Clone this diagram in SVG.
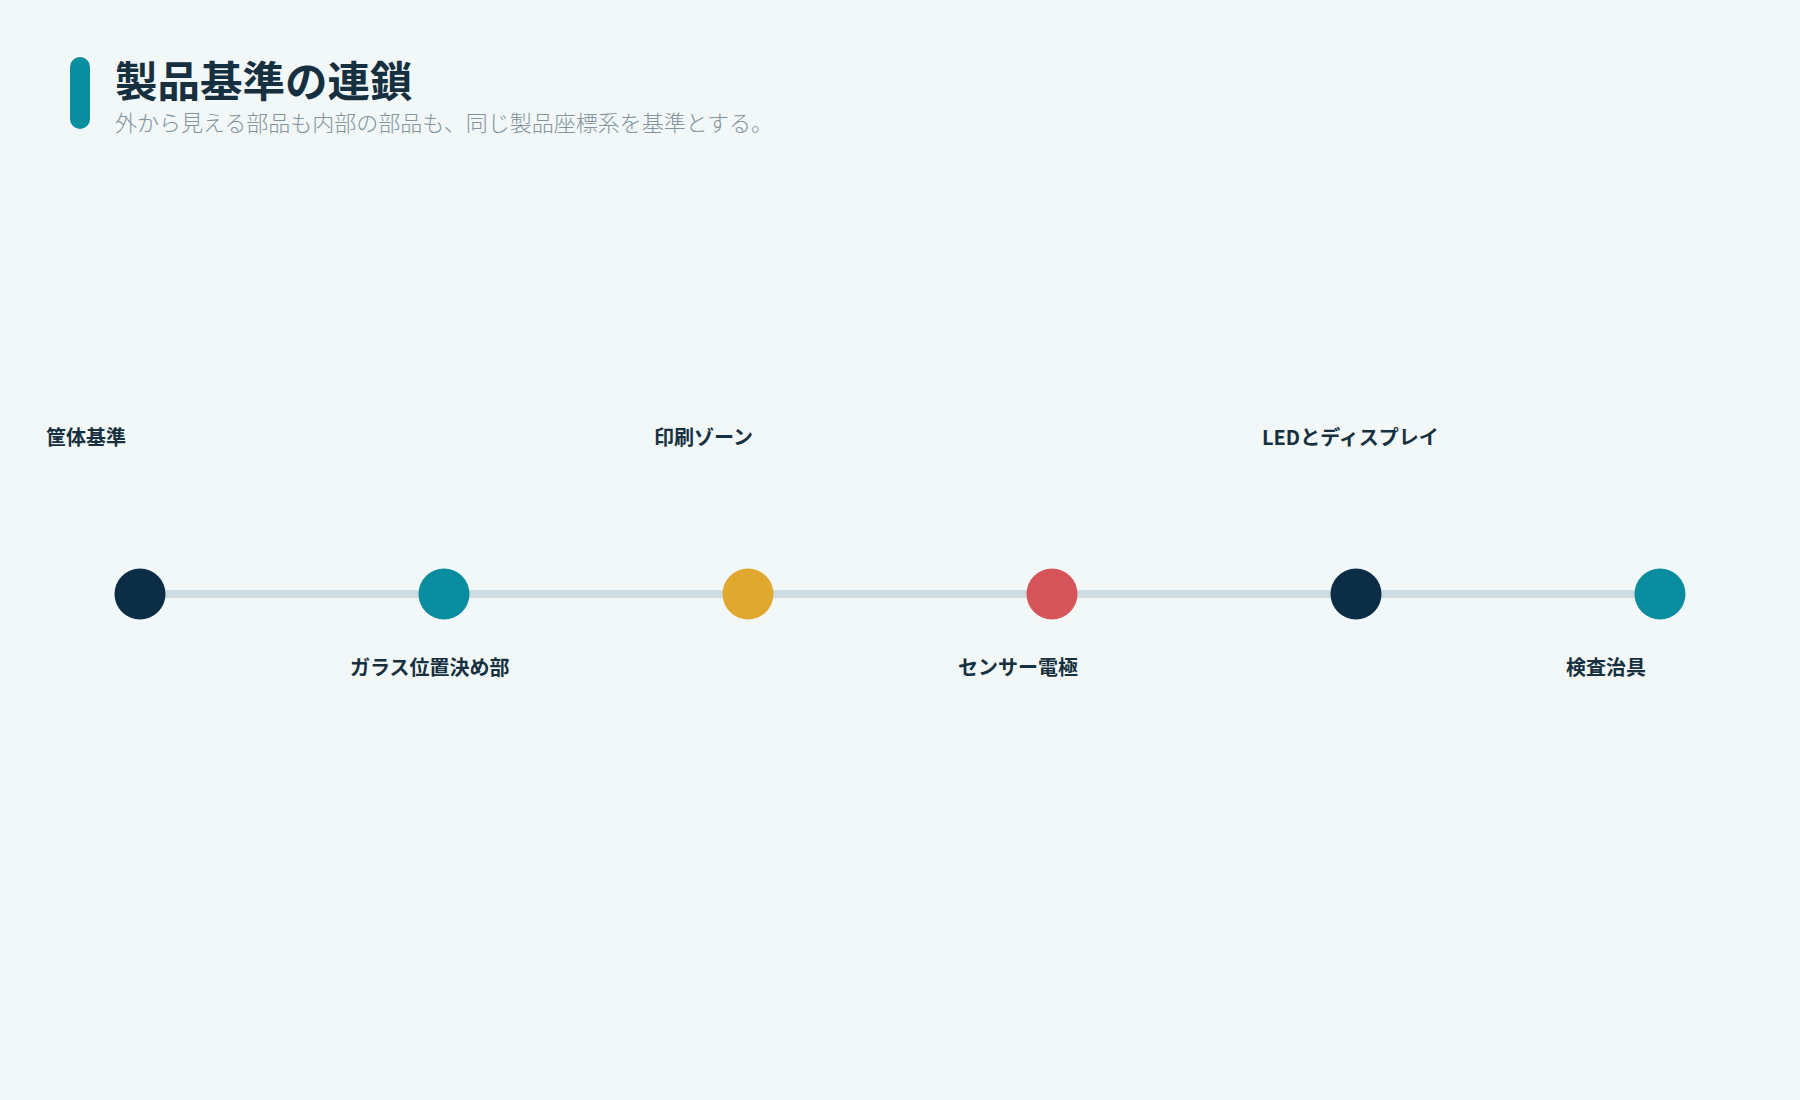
<svg xmlns="http://www.w3.org/2000/svg" width="1800" height="1100" viewBox="0 0 1800 1100">
  <style>
    .title { font-family: "Noto Sans CJK JP", "Noto Sans", sans-serif; font-size: 42.5px; font-weight: 700; fill: #17303f; }
    .sub { font-family: "Noto Sans CJK JP", "Noto Sans", sans-serif; font-size: 22px; font-weight: 300; fill: #84949e; }
    .lbl { font-family: "Noto Sans CJK JP", "Noto Sans", sans-serif; font-size: 20px; font-weight: 700; fill: #17303f; }
    .navy { fill: #0b2e46; }
    .teal { fill: #0b8da0; }
    .gold { fill: #e0a82f; }
    .red { fill: #d6555a; }
    .conn { stroke: #cfdce2; stroke-width: 8; fill: none; }
  </style>
  <rect x="0" y="0" width="1800" height="1100" fill="#f2f7f7"/>
  <g id="header">
    <rect x="70" y="57" width="20" height="72" rx="10" fill="#0b8da0"/>
    <text class="title" x="115" y="97">製品基準の連鎖</text>
    <text class="sub" x="115" y="131">外から見える部品も内部の部品も、同じ製品座標系を基準とする。</text>
  </g>
  <g id="connectors">
    <line class="conn" x1="140" y1="594" x2="1660" y2="594"/>
  </g>
  <g id="node1">
    <circle class="navy" cx="140" cy="594" r="25.5"/>
    <text class="lbl" x="46" y="445">筐体基準</text>
  </g>
  <g id="node2">
    <circle class="teal" cx="444" cy="594" r="25.5"/>
    <text class="lbl" x="350" y="675">ガラス位置決め部</text>
  </g>
  <g id="node3">
    <circle class="gold" cx="748" cy="594" r="25.5"/>
    <text class="lbl" x="654" y="445">印刷ゾーン</text>
  </g>
  <g id="node4">
    <circle class="red" cx="1052" cy="594" r="25.5"/>
    <text class="lbl" x="958" y="675">センサー電極</text>
  </g>
  <g id="node5">
    <circle class="navy" cx="1356" cy="594" r="25.5"/>
    <text class="lbl" x="1262" y="445">LEDとディスプレイ</text>
  </g>
  <g id="node6">
    <circle class="teal" cx="1660" cy="594" r="25.5"/>
    <text class="lbl" x="1566" y="675">検査治具</text>
  </g>
</svg>
